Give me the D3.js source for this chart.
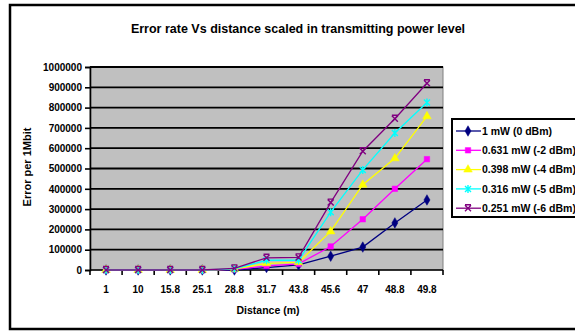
<!DOCTYPE html>
<html>
<head>
<meta charset="utf-8">
<script src="https://cdn.jsdelivr.net/npm/d3@7"></script>
<style>
  html, body { margin: 0; padding: 0; background: #fff; }
  svg { display: block; }
  text { font-family: "Liberation Sans", Arial, sans-serif; font-weight: bold; fill: #000; }
</style>
</head>
<body>
<svg id="chart" width="575" height="331"></svg>
<script>
// Distance categories (m)
const distances = ["1", "10", "15.8", "25.1", "28.8", "31.7", "43.8", "45.6", "47", "48.8", "49.8"];

// Errors per 1 Mbit for each transmit power level
const power0dBm  = [0, 0, 0, 0, 0, 12000, 25000, 68000, 113000, 232000, 345000];
const power2dBm  = [0, 0, 0, 0, 3000, 20000, 30000, 116000, 250000, 400000, 546000];
const power4dBm  = [0, 0, 0, 0, 4000, 33000, 38000, 190000, 420000, 550000, 757000];
const power5dBm  = [0, 0, 0, 0, 6000, 48000, 48000, 285000, 493000, 675000, 825000];
const power6dBm  = [0, 0, 0, 0, 8000, 60000, 62000, 332000, 585000, 745000, 920000];

const seriesNames = ["1 mW (0 dBm)", "0.631 mW (-2 dBm)", "0.398 mW (-4 dBm)", "0.316 mW (-5 dBm)", "0.251 mW (-6 dBm)"];
const seriesColors = ["#000080", "#ff00ff", "#ffff00", "#00ffff", "#800080"];
const seriesMarkers = ["diamond", "square", "triangle", "asterisk", "cross"];
const seriesValues = [power0dBm, power2dBm, power4dBm, power5dBm, power6dBm];

const yTicks = [0, 100000, 200000, 300000, 400000, 500000, 600000, 700000, 800000, 900000, 1000000];

const svg = d3.select("#chart");

// chart frame
svg.append("rect")
  .attr("x", 10).attr("y", 5).attr("width", 640).attr("height", 324)
  .attr("fill", "#fff").attr("stroke", "#000").attr("stroke-width", 2.5);

// plot area
const plotLeft = 90, plotRight = 443, plotTop = 67, plotBottom = 270;
const x = d3.scaleBand().domain(distances).range([plotLeft, plotRight]);
const y = d3.scaleLinear().domain([0, 1000000]).range([plotBottom, plotTop]);

svg.append("rect")
  .attr("x", plotLeft).attr("y", plotTop).attr("width", plotRight - plotLeft).attr("height", plotBottom - plotTop)
  .attr("fill", "#c0c0c0").attr("stroke", "#808080").attr("stroke-width", 1);

// horizontal gridlines
svg.append("g").selectAll("line").data(yTicks.filter(d => d > 0)).join("line")
  .attr("x1", plotLeft).attr("x2", plotRight)
  .attr("y1", d => y(d)).attr("y2", d => y(d))
  .attr("stroke", "#000").attr("stroke-width", 1.8);

// y axis
const yAxis = d3.axisLeft(y).tickValues(yTicks).tickSize(5).tickPadding(3).tickFormat(d3.format("d"));
const gy = svg.append("g").attr("transform", `translate(${plotLeft},0)`).call(yAxis);
gy.select(".domain").attr("stroke", "#000").attr("stroke-width", 1.6);
gy.selectAll(".tick line").attr("stroke", "#000").attr("stroke-width", 1.6);
gy.selectAll(".tick text").style("font-size", "10px").style("font-family", "'Liberation Sans', Arial, sans-serif").style("font-weight", "bold").attr("fill", "#000");

// x axis: ticks at category boundaries
const gx = svg.append("g").attr("transform", `translate(0,${plotBottom})`);
gx.append("line").attr("x1", plotLeft).attr("x2", plotRight).attr("y1", 0).attr("y2", 0)
  .attr("stroke", "#000").attr("stroke-width", 1.6);
const bounds = distances.map(d => x(d)).concat([plotRight]);
gx.selectAll("line.tk").data(bounds).join("line").attr("class", "tk")
  .attr("x1", d => d).attr("x2", d => d).attr("y1", 0).attr("y2", 5)
  .attr("stroke", "#000").attr("stroke-width", 1.6);
gx.selectAll("text").data(distances).join("text")
  .attr("x", d => x(d) + x.bandwidth() / 2).attr("y", 22.5)
  .attr("text-anchor", "middle").style("font-size", "10px").text(d => d);

// marker shapes
function markerPath(kind) {
  if (kind === "diamond") return d3.symbol(d3.symbolDiamond, 32)();
  if (kind === "square") return d3.symbol(d3.symbolSquare, 30)();
  if (kind === "triangle") return d3.symbol(d3.symbolTriangle, 32)();
  if (kind === "cross") return "M-3,-3L3,3M-3,3L3,-3M-3,-3.5L3,-3.5";
  return "M-3,-3L3,3M-3,3L3,-3M0,-4L0,4";
}

const line = d3.line().x((d, i) => x(distances[i]) + x.bandwidth() / 2).y(d => y(d));

seriesValues.forEach((vals, si) => {
  const g = svg.append("g");
  g.append("path").datum(vals).attr("d", line)
    .attr("fill", "none").attr("stroke", seriesColors[si]).attr("stroke-width", 1.3);
  const kind = seriesMarkers[si];
  const filled = kind === "diamond" || kind === "square" || kind === "triangle";
  g.selectAll("path.m").data(vals).join("path").attr("class", "m")
    .attr("transform", (d, i) => `translate(${x(distances[i]) + x.bandwidth() / 2},${y(d)})`)
    .attr("d", markerPath(kind))
    .attr("fill", filled ? seriesColors[si] : "none")
    .attr("stroke", seriesColors[si]).attr("stroke-width", filled ? 0.5 : 1.4);
});

// titles
svg.append("text").attr("x", 298).attr("y", 32.5).attr("text-anchor", "middle")
  .style("font-size", "12.5px").text("Error rate Vs distance scaled in transmitting power level");
svg.append("text").attr("x", 268).attr("y", 314).attr("text-anchor", "middle")
  .style("font-size", "10.5px").text("Distance (m)");
svg.append("text").attr("transform", "translate(31,167) rotate(-90)").attr("text-anchor", "middle")
  .style("font-size", "11px").text("Error per 1Mbit");

// legend
const lg = svg.append("g");
lg.append("rect").attr("x", 452).attr("y", 119).attr("width", 160).attr("height", 98)
  .attr("fill", "#fff").attr("stroke", "#000").attr("stroke-width", 2);
seriesNames.forEach((name, si) => {
  const ly = 131 + si * 19.3;
  lg.append("line").attr("x1", 456).attr("x2", 481).attr("y1", ly).attr("y2", ly)
    .attr("stroke", seriesColors[si]).attr("stroke-width", 1.3);
  const kind = seriesMarkers[si];
  const filled = kind === "diamond" || kind === "square" || kind === "triangle";
  lg.append("path").attr("transform", `translate(468,${ly})`).attr("d", markerPath(kind))
    .attr("fill", filled ? seriesColors[si] : "none")
    .attr("stroke", seriesColors[si]).attr("stroke-width", filled ? 0.5 : 1.4);
  lg.append("text").attr("x", 482).attr("y", ly + 3.8).style("font-size", "10.5px").text(name);
});
</script>
</body>
</html>
